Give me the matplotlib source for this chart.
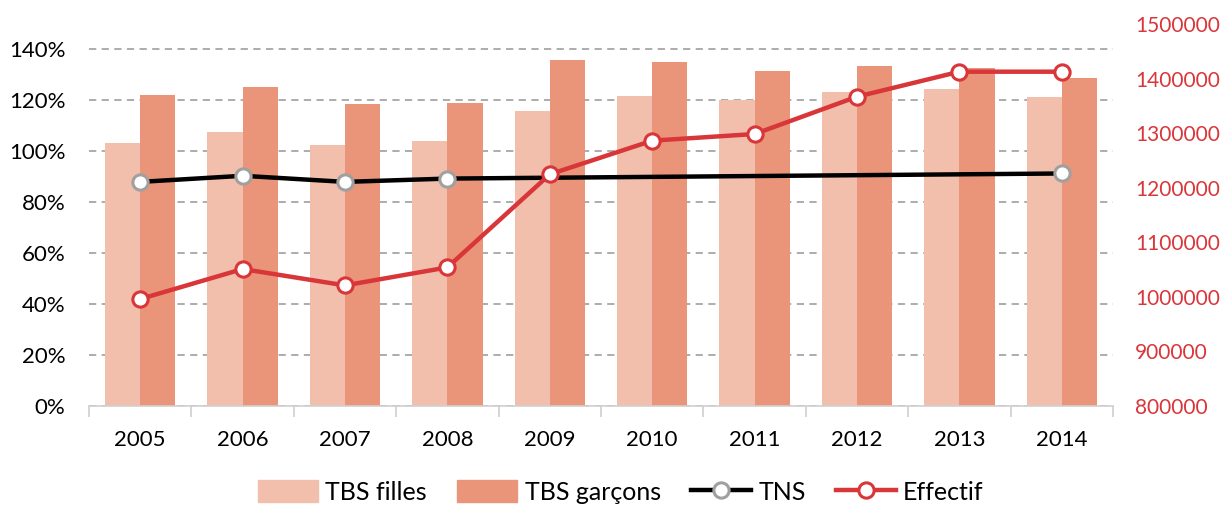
import matplotlib
matplotlib.use("Agg")
import matplotlib.pyplot as plt
import numpy as np
from matplotlib.lines import Line2D
from matplotlib.patches import Patch

years = ["2005", "2006", "2007", "2008", "2009", "2010", "2011", "2012", "2013", "2014"]
tbs_filles = [103.4, 107.7, 102.6, 104.2, 115.9, 121.8, 120.1, 123.4, 124.4, 121.4]
tbs_garcons = [122.0, 125.4, 118.6, 118.8, 135.9, 135.0, 131.7, 133.6, 132.8, 128.7]
tns_years = ["2005", "2006", "2007", "2008", "2014"]
tns = [88.0, 90.4, 88.0, 89.3, 91.3]
effectif = [996000, 1051000, 1021000, 1054000, 1224600, 1286200, 1298400, 1366800, 1412600, 1412600]

c_filles = "#F2BFAD"
c_garcons = "#EA9479"
c_red = "#D9363A"
c_grid = "#A6A6A6"

plt.rcParams['font.family'] = ['Lato', 'DejaVu Sans']
fig = plt.figure(figsize=(12.22, 5.08), dpi=100)
ax = fig.add_axes([89/1222, 1-406/508, (1113-89)/1222, (406-24)/508])
ax2 = ax.twinx()

x = np.arange(len(years))
w = 0.343
ax.bar(x - w/2, tbs_filles, width=w, color=c_filles, zorder=2)
ax.bar(x + w/2, tbs_garcons, width=w, color=c_garcons, zorder=2)
tx = [years.index(y) for y in tns_years]
ax.plot(tx, tns, color="black", lw=3.2, marker="o", ms=11, mfc="white",
        mec="#A0A0A0", mew=2.2, zorder=4)
ax2.plot(x, effectif, color=c_red, lw=3.2, marker="o", ms=11, mfc="white",
         mec=c_red, mew=2.2, zorder=4)

ax.set_xlim(-0.5, len(years) - 0.5)
ax.set_ylim(0, 150)
ax.set_yticks(np.arange(0, 141, 20))
ax.set_yticklabels([f"{v}%" for v in range(0, 141, 20)], fontsize=16)
ax.yaxis.grid(True, color=c_grid, ls=(0, (4, 3)), lw=1.3)
ax.set_axisbelow(True)
ax.set_xticks(x)
ax.set_xticklabels(years, fontsize=16)
ax.set_xticks(np.arange(-0.5, len(years)), minor=True)
ax.tick_params(axis="x", which="major", length=0, pad=17)
ax.tick_params(axis="x", which="minor", length=8, color="#D0D0D0", width=1.2)
ax.tick_params(axis="y", length=0, pad=17)
for s in ["top", "left", "right"]:
    ax.spines[s].set_visible(False)
ax.spines["bottom"].set_color("#D0D0D0")
ax.spines["bottom"].set_linewidth(1.2)

ax2.set_ylim(800000, 1500000)
ax2.set_yticks(np.arange(800000, 1500001, 100000))
ax2.set_yticklabels([str(v) for v in range(800000, 1500001, 100000)], fontsize=15, color=c_red)
ax2.tick_params(axis="y", length=0, pad=16)
for s in ["top", "left", "right", "bottom"]:
    ax2.spines[s].set_visible(False)

handles = [Patch(color=c_filles), Patch(color=c_garcons),
           Line2D([], [], color="black", lw=3.2, marker="o", ms=11, mfc="white", mec="#A0A0A0", mew=2.2),
           Line2D([], [], color=c_red, lw=3.2, marker="o", ms=11, mfc="white", mec=c_red, mew=2.2)]
labels = ["TBS filles", "TBS garçons", "TNS", "Effectif"]
fig.legend(handles, labels, loc="center", bbox_to_anchor=(0.508, 0.032), ncol=4,
           frameon=False, fontsize=18, handlelength=2.4, handleheight=1.0,
           columnspacing=1.2, handletextpad=0.3)

fig.savefig("out.png", dpi=100)
